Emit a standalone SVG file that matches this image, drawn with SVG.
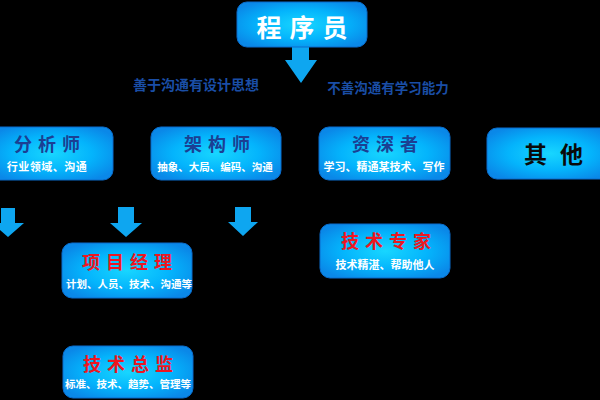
<svg xmlns="http://www.w3.org/2000/svg" width="600" height="400" viewBox="0 0 600 400">
<defs>
<radialGradient id="bg" cx="50%" cy="50%" r="60%">
<stop offset="0" stop-color="#18d6ff"/>
<stop offset="0.55" stop-color="#04b4fc"/>
<stop offset="1" stop-color="#0a88e8"/>
</radialGradient>
<style>
.box{fill:url(#bg);stroke:#0a6ccc;stroke-width:1}
.t{font-family:"Noto Sans CJK SC","Noto Sans",sans-serif;font-weight:bold;text-anchor:middle;dominant-baseline:central}
.title{font-size:18px;fill:#1b3f93;letter-spacing:6px}
.red{font-size:18px;fill:#ee1620;letter-spacing:6px}
.sub{font-size:11px;fill:#ffffff}
.lab{font-size:14px;fill:#1a4ea6}
.arr{fill:#0ea6f0}
</style>
</defs>
<rect width="600" height="400" fill="#000000"/>
<g id="connectors">
<polygon class="arr" points="292,46 309,46 309,60 317,60 301,83 285,60 292,60"/>
<polygon class="arr" points="1,208 15,208 15,223 24,223 8,237 -8,223 1,223"/>
<polygon class="arr" points="118,207 134,207 134,223 142,223 126,237 110,223 118,223"/>
<polygon class="arr" points="235,207 251,207 251,222 258,222 243,236 228,222 235,222"/>
<text class="t lab" x="196" y="84">善于沟通有设计思想</text>
<text class="t lab" x="388" y="87" style="font-size:13.5px">不善沟通有学习能力</text>
</g>
<g id="n-programmer">
<rect class="box" x="237" y="2" width="130" height="45" rx="10"/>
<text class="t" x="306" y="26" style="font-size:25px;fill:#fff;letter-spacing:8px">程序员</text>
</g>
<g id="n-analyst">
<rect class="box" x="-10" y="127" width="123" height="53" rx="10"/>
<text class="t title" x="50" y="143">分析师</text>
<text class="t sub" x="47" y="166" style="letter-spacing:0.5px">行业领域、沟通</text>
</g>
<g id="n-architect">
<rect class="box" x="151" y="127" width="130" height="53" rx="10"/>
<text class="t title" x="220" y="143">架构师</text>
<text class="t sub" x="215" y="166" style="font-size:10.5px">抽象、大局、编码、沟通</text>
</g>
<g id="n-senior">
<rect class="box" x="319" y="127" width="131" height="53" rx="10"/>
<text class="t title" x="388" y="143">资深者</text>
<text class="t sub" x="384" y="166">学习、精通某技术、写作</text>
</g>
<g id="n-other">
<rect class="box" x="487" y="128" width="125" height="51" rx="10"/>
<text class="t" x="560" y="153" style="font-size:23px;fill:#0a0a0a;letter-spacing:13px">其他</text>
</g>
<g id="n-pm">
<rect class="box" x="62" y="243" width="130" height="55" rx="10"/>
<text class="t red" x="130" y="261">项目经理</text>
<text class="t sub" x="129" y="283" style="font-size:10.5px">计划、人员、技术、沟通等</text>
</g>
<g id="n-expert">
<rect class="box" x="320" y="224" width="130" height="54" rx="10"/>
<text class="t red" x="389" y="240">技术专家</text>
<text class="t sub" x="385" y="264">技术精湛、帮助他人</text>
</g>
<g id="n-cto">
<rect class="box" x="63" y="346" width="130" height="52" rx="10"/>
<text class="t red" x="131" y="363">技术总监</text>
<text class="t sub" x="128" y="383" style="font-size:10.5px">标准、技术、趋势、管理等</text>
</g>
</svg>
